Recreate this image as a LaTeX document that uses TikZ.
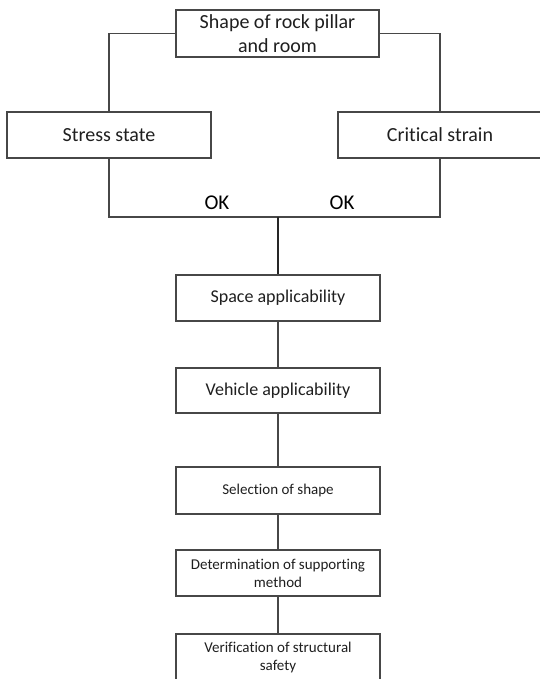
\documentclass[tikz,border=0pt]{standalone}
\usepackage{fontspec}
\setmainfont{Carlito}[Ligatures={NoCommon}]
\begin{document}
\begin{tikzpicture}[x=1pt,y=-1pt,
  boxstyle/.style={draw=black!72, line width=1.2pt, rectangle, inner sep=0pt,
    minimum width=204pt, text=black!88, align=center},
  bigtext/.style={font=\fontsize{20}{24}\selectfont},
  midtext/.style={font=\fontsize{18}{21}\selectfont},
  smalltext/.style={font=\fontsize{15}{18}\selectfont},
  conn/.style={draw=black!72, line width=1.2pt},
  mainconn/.style={draw=black!85, line width=2.2pt},
  oklabel/.style={font=\fontsize{21}{24}\selectfont, text=black, inner sep=0pt}]
\useasboundingbox (0,0) rectangle (539,679);
\fill[white] (0,0) rectangle (539,679);

\node[boxstyle, bigtext, minimum width=203pt, minimum height=47pt] (top) at (277.5,33.5) {Shape of rock pillar\\and room};
\node[boxstyle, bigtext, minimum height=46pt] (stress) at (109,135) {Stress state};
\node[boxstyle, bigtext, minimum height=46pt] (crit) at (440,135) {Critical strain};
\node[boxstyle, midtext, minimum height=46pt] (space) at (278,298) {Space applicability};
\node[boxstyle, midtext, minimum height=45pt] (veh) at (278,390.5) {Vehicle applicability};
\node[boxstyle, smalltext, minimum height=47pt] (sel) at (278,490.5) {Selection of shape};
\node[boxstyle, smalltext, minimum height=46pt] (det) at (278,573) {Determination of supporting\\method};
\node[boxstyle, smalltext, minimum height=46pt] (ver) at (278,657) {Verification of structural\\safety};

\coordinate (j) at (278,217);
\node[oklabel] (ok1) at (217,203) {OK};
\node[oklabel] (ok2) at (342,203) {OK};

\draw[conn] (top.west) -| (stress.north);
\draw[conn] (top.east) -| (crit.north);
\draw[conn] (stress.south) |- (j) -| (crit.south);
\draw[mainconn] (j) -- (space.north);
\draw[conn] (space.south) -- (veh.north);
\draw[conn] (veh.south) -- (sel.north);
\draw[conn] (sel.south) -- (det.north);
\draw[conn] (det.south) -- (ver.north);
\end{tikzpicture}
\end{document}
